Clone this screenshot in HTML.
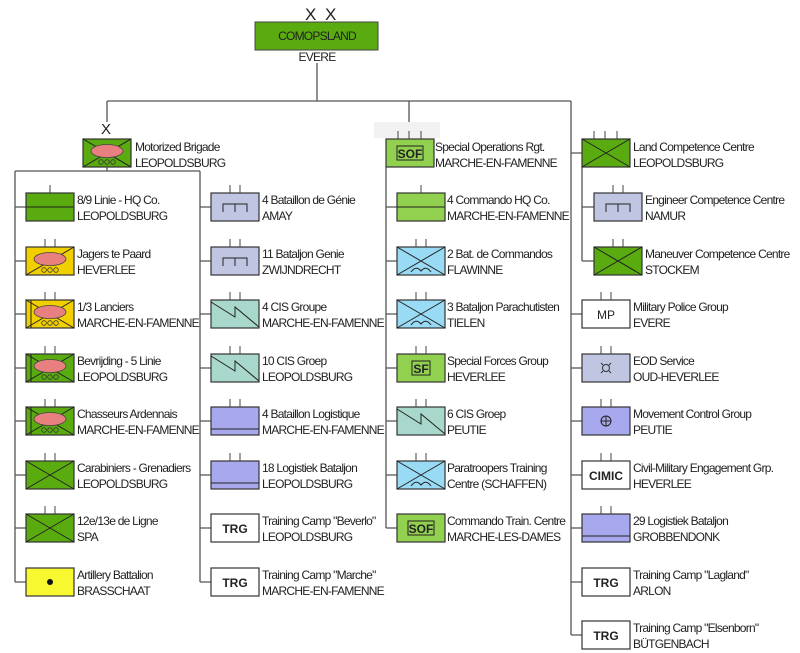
<!DOCTYPE html>
<html><head><meta charset="utf-8"><style>
html,body{margin:0;padding:0;background:#fff;}
svg{display:block;}
text{font-family:"Liberation Sans",sans-serif;font-size:12px;fill:#222;letter-spacing:-0.75px;}
.b{stroke:#333;stroke-width:1.2;}
.l{stroke:#555;stroke-width:1.3;fill:none;}
</style></head><body>
<svg width="800" height="653" viewBox="0 0 800 653" xmlns="http://www.w3.org/2000/svg">
<defs>
<g id="x"><line x1="0" y1="0" x2="48" y2="28" stroke="#222" stroke-width="1"/><line x1="0" y1="28" x2="48" y2="0" stroke="#222" stroke-width="1"/></g>
<g id="ell"><ellipse cx="24" cy="12" rx="16" ry="6.5" fill="#e88080" stroke="#444" stroke-width="0.8"/><circle cx="18" cy="23" r="2.3" fill="none" stroke="#333" stroke-width="0.8"/><circle cx="24" cy="23" r="2.3" fill="none" stroke="#333" stroke-width="0.8"/><circle cx="30" cy="23" r="2.3" fill="none" stroke="#333" stroke-width="0.8"/></g>
<g id="eng"><path d="M12 19 V11 H36 V19 M24 11 V19" fill="none" stroke="#222" stroke-width="1"/></g>
<g id="cis"><path d="M0 2 L24 17 V7 L48 27" fill="none" stroke="#222" stroke-width="1"/></g>
<g id="cdo"><path d="M14 25 Q19 18 24 24 Q29 18 34 25" fill="none" stroke="#222" stroke-width="1"/></g>
<g id="t2"><line x1="19" y1="-8" x2="19" y2="0" stroke="#444"/><line x1="29" y1="-8" x2="29" y2="0" stroke="#444"/></g>
<g id="t1"><line x1="24" y1="-8" x2="24" y2="0" stroke="#444"/></g>
<g id="t3"><line x1="12" y1="-8" x2="12" y2="0" stroke="#444"/><line x1="23" y1="-8" x2="23" y2="0" stroke="#444"/><line x1="35" y1="-8" x2="35" y2="0" stroke="#444"/></g>
</defs>

<text x="305" y="20" style="font-size:17px;letter-spacing:2px">X X</text>
<rect x="255" y="22" width="123" height="28" fill="#5aab10" stroke="#444" stroke-width="1"/>
<text x="317" y="40" text-anchor="middle">COMOPSLAND</text>
<text x="317" y="61" text-anchor="middle">EVERE</text>
<path class="l" d="M317 63 V101 M107 101 H571 M107 101 V122 M409 101 V130 M571 101 V635"/>
<rect x="374" y="122" width="66" height="16" fill="#f2f2f2"/>

<text x="101" y="134" style="font-size:15px">X</text>
<g transform="translate(83,139)"><rect width="48" height="28" fill="#5aab10" class="b"/><use href="#x"/><use href="#ell"/></g>
<text x="135" y="151">Motorized Brigade</text><text x="135" y="167">LEOPOLDSBURG</text>
<path class="l" d="M107 167 V171 M15 171 H200 M15 171 V582 M200 171 V582"/>

<path class="l" d="M15 207 H26 M15 261 H26 M15 314 H26 M15 368 H26 M15 421 H26 M15 475 H26 M15 528 H26 M15 582 H26"/>
<g transform="translate(26,193)"><rect width="48" height="28" fill="#5aab10" class="b"/><line x1="0" y1="14" x2="48" y2="14" stroke="#222"/><use href="#t1"/></g>
<text x="77" y="204">8/9 Linie - HQ Co.</text><text x="77" y="220">LEOPOLDSBURG</text>
<g transform="translate(26,247)"><rect width="48" height="28" fill="#f2d000" class="b"/><line x1="0" y1="28" x2="48" y2="0" stroke="#222"/><use href="#ell"/><use href="#t2"/></g>
<text x="77" y="258">Jagers te Paard</text><text x="77" y="274">HEVERLEE</text>
<g transform="translate(26,300)"><rect width="48" height="28" fill="#f2d000" class="b"/><use href="#x"/><line x1="5" y1="0" x2="5" y2="28" stroke="#222"/><use href="#ell"/><use href="#t2"/></g>
<text x="77" y="311">1/3 Lanciers</text><text x="77" y="327">MARCHE-EN-FAMENNE</text>
<g transform="translate(26,354)"><rect width="48" height="28" fill="#5aab10" class="b"/><use href="#x"/><line x1="5" y1="0" x2="5" y2="28" stroke="#222"/><use href="#ell"/><use href="#t2"/></g>
<text x="77" y="365">Bevrijding - 5 Linie</text><text x="77" y="381">LEOPOLDSBURG</text>
<g transform="translate(26,407)"><rect width="48" height="28" fill="#5aab10" class="b"/><use href="#x"/><line x1="5" y1="0" x2="5" y2="28" stroke="#222"/><use href="#ell"/><use href="#t2"/></g>
<text x="77" y="418">Chasseurs Ardennais</text><text x="77" y="434">MARCHE-EN-FAMENNE</text>
<g transform="translate(26,461)"><rect width="48" height="28" fill="#5aab10" class="b"/><use href="#x"/><use href="#t2"/></g>
<text x="77" y="472">Carabiniers - Grenadiers</text><text x="77" y="488">LEOPOLDSBURG</text>
<g transform="translate(26,514)"><rect width="48" height="28" fill="#5aab10" class="b"/><use href="#x"/><use href="#t2"/></g>
<text x="77" y="525">12e/13e de Ligne</text><text x="77" y="541">SPA</text>
<g transform="translate(26,568)"><rect width="48" height="28" fill="#f8f830" class="b"/><circle cx="24" cy="14" r="3" fill="#111"/></g>
<text x="77" y="579">Artillery Battalion</text><text x="77" y="595">BRASSCHAAT</text>

<path class="l" d="M200 207 H211 M200 261 H211 M200 314 H211 M200 368 H211 M200 421 H211 M200 475 H211 M200 528 H211 M200 582 H211"/>
<g transform="translate(211,193)"><rect width="48" height="28" fill="#c0c6e2" class="b"/><use href="#eng"/><use href="#t2"/></g>
<text x="262" y="204">4 Bataillon de Génie</text><text x="262" y="220">AMAY</text>
<g transform="translate(211,247)"><rect width="48" height="28" fill="#c0c6e2" class="b"/><use href="#eng"/><use href="#t2"/></g>
<text x="262" y="258">11 Bataljon Genie</text><text x="262" y="274">ZWIJNDRECHT</text>
<g transform="translate(211,300)"><rect width="48" height="28" fill="#a8d8cc" class="b"/><use href="#cis"/><use href="#t2"/></g>
<text x="262" y="311">4 CIS Groupe</text><text x="262" y="327">MARCHE-EN-FAMENNE</text>
<g transform="translate(211,354)"><rect width="48" height="28" fill="#a8d8cc" class="b"/><use href="#cis"/><use href="#t2"/></g>
<text x="262" y="365">10 CIS Groep</text><text x="262" y="381">LEOPOLDSBURG</text>
<g transform="translate(211,407)"><rect width="48" height="28" fill="#a8a8ee" class="b"/><line x1="0" y1="22" x2="48" y2="22" stroke="#222"/><use href="#t2"/></g>
<text x="262" y="418">4 Bataillon Logistique</text><text x="262" y="434">MARCHE-EN-FAMENNE</text>
<g transform="translate(211,461)"><rect width="48" height="28" fill="#a8a8ee" class="b"/><line x1="0" y1="22" x2="48" y2="22" stroke="#222"/><use href="#t2"/></g>
<text x="262" y="472">18 Logistiek Bataljon</text><text x="262" y="488">LEOPOLDSBURG</text>
<g transform="translate(211,514)"><rect width="48" height="28" fill="#fff" class="b"/><text x="24" y="19" text-anchor="middle" style="font-weight:bold;font-size:12px;letter-spacing:0">TRG</text></g>
<text x="262" y="525">Training Camp "Beverlo"</text><text x="262" y="541">LEOPOLDSBURG</text>
<g transform="translate(211,568)"><rect width="48" height="28" fill="#fff" class="b"/><text x="24" y="19" text-anchor="middle" style="font-weight:bold;font-size:12px;letter-spacing:0">TRG</text></g>
<text x="262" y="579">Training Camp "Marche"</text><text x="262" y="595">MARCHE-EN-FAMENNE</text>

<g transform="translate(386,139)"><rect width="48" height="28" fill="#92d050" class="b"/><rect x="11" y="7" width="26" height="14" fill="none" stroke="#222"/><text x="24" y="19" text-anchor="middle" style="font-weight:bold;font-size:12px;letter-spacing:0">SOF</text><use href="#t3"/></g>
<text x="435" y="151">Special Operations Rgt.</text><text x="435" y="167">MARCHE-EN-FAMENNE</text>
<path class="l" d="M386 167 V528 M386 207 H397 M386 261 H397 M386 314 H397 M386 368 H397 M386 421 H397 M386 475 H397 M386 528 H397"/>
<g transform="translate(397,193)"><rect width="48" height="28" fill="#92d050" class="b"/><line x1="0" y1="14" x2="48" y2="14" stroke="#222"/><use href="#t1"/></g>
<text x="447" y="204">4 Commando HQ Co.</text><text x="447" y="220">MARCHE-EN-FAMENNE</text>
<g transform="translate(397,247)"><rect width="48" height="28" fill="#99daf4" class="b"/><use href="#x"/><use href="#cdo"/><use href="#t2"/></g>
<text x="447" y="258">2 Bat. de Commandos</text><text x="447" y="274">FLAWINNE</text>
<g transform="translate(397,300)"><rect width="48" height="28" fill="#99daf4" class="b"/><use href="#x"/><use href="#cdo"/><use href="#t2"/></g>
<text x="447" y="311">3 Bataljon Parachutisten</text><text x="447" y="327">TIELEN</text>
<g transform="translate(397,354)"><rect width="48" height="28" fill="#92d050" class="b"/><rect x="15" y="7" width="18" height="14" fill="none" stroke="#222"/><text x="24" y="19" text-anchor="middle" style="font-weight:bold;font-size:12px;letter-spacing:0">SF</text><use href="#t2"/></g>
<text x="447" y="365">Special Forces Group</text><text x="447" y="381">HEVERLEE</text>
<g transform="translate(397,407)"><rect width="48" height="28" fill="#a8d8cc" class="b"/><use href="#cis"/><use href="#t2"/></g>
<text x="447" y="418">6 CIS Groep</text><text x="447" y="434">PEUTIE</text>
<g transform="translate(397,461)"><rect width="48" height="28" fill="#99daf4" class="b"/><use href="#x"/><use href="#cdo"/><use href="#t2"/></g>
<text x="447" y="472">Paratroopers Training</text><text x="447" y="488">Centre (SCHAFFEN)</text>
<g transform="translate(397,514)"><rect width="48" height="28" fill="#92d050" class="b"/><rect x="11" y="7" width="26" height="14" fill="none" stroke="#222"/><text x="24" y="19" text-anchor="middle" style="font-weight:bold;font-size:12px;letter-spacing:0">SOF</text></g>
<text x="447" y="525">Commando Train. Centre</text><text x="447" y="541">MARCHE-LES-DAMES</text>

<path class="l" d="M571 153 H582 M582 167 V261 M582 207 H594 M582 261 H594 M571 314 H582 M571 368 H582 M571 421 H582 M571 475 H582 M571 528 H582 M571 582 H582 M571 635 H582"/>
<g transform="translate(582,139)"><rect width="48" height="28" fill="#5aab10" class="b"/><use href="#x"/><use href="#t3"/></g>
<text x="633" y="151">Land Competence Centre</text><text x="633" y="167">LEOPOLDSBURG</text>
<g transform="translate(594,193)"><rect width="48" height="28" fill="#c0c6e2" class="b"/><use href="#eng"/><use href="#t2"/></g>
<text x="645" y="204">Engineer Competence Centre</text><text x="645" y="220">NAMUR</text>
<g transform="translate(594,247)"><rect width="48" height="28" fill="#5aab10" class="b"/><use href="#x"/><use href="#t2"/></g>
<text x="645" y="258">Maneuver Competence Centre</text><text x="645" y="274">STOCKEM</text>
<g transform="translate(582,300)"><rect width="48" height="28" fill="#fff" class="b"/><text x="24" y="19" text-anchor="middle" style="letter-spacing:0">MP</text><use href="#t2"/></g>
<text x="633" y="311">Military Police Group</text><text x="633" y="327">EVERE</text>
<g transform="translate(582,354)"><rect width="48" height="28" fill="#c0c6e2" class="b"/><circle cx="24" cy="14" r="3.5" fill="none" stroke="#333"/><path d="M19 9 L21 11 M29 9 L27 11 M19 19 L21 17 M29 19 L27 17" stroke="#333"/><use href="#t2"/></g>
<text x="633" y="365">EOD Service</text><text x="633" y="381">OUD-HEVERLEE</text>
<g transform="translate(582,407)"><rect width="48" height="28" fill="#a8a8ee" class="b"/><circle cx="24" cy="14" r="5" fill="none" stroke="#222"/><path d="M24 9 V19 M19 14 H29" stroke="#222"/><use href="#t2"/></g>
<text x="633" y="418">Movement Control Group</text><text x="633" y="434">PEUTIE</text>
<g transform="translate(582,461)"><rect width="48" height="28" fill="#fff" class="b"/><text x="24" y="19" text-anchor="middle" style="font-weight:bold;font-size:12px;letter-spacing:0">CIMIC</text><use href="#t2"/></g>
<text x="633" y="472">Civil-Military Engagement Grp.</text><text x="633" y="488">HEVERLEE</text>
<g transform="translate(582,514)"><rect width="48" height="28" fill="#a8a8ee" class="b"/><line x1="0" y1="22" x2="48" y2="22" stroke="#222"/><use href="#t2"/></g>
<text x="633" y="525">29 Logistiek Bataljon</text><text x="633" y="541">GROBBENDONK</text>
<g transform="translate(582,568)"><rect width="48" height="28" fill="#fff" class="b"/><text x="24" y="19" text-anchor="middle" style="font-weight:bold;font-size:12px;letter-spacing:0">TRG</text></g>
<text x="633" y="579">Training Camp "Lagland"</text><text x="633" y="595">ARLON</text>
<g transform="translate(582,621)"><rect width="48" height="28" fill="#fff" class="b"/><text x="24" y="19" text-anchor="middle" style="font-weight:bold;font-size:12px;letter-spacing:0">TRG</text></g>
<text x="633" y="632">Training Camp "Elsenborn"</text><text x="633" y="648">BÜTGENBACH</text>
</svg>
</body></html>
